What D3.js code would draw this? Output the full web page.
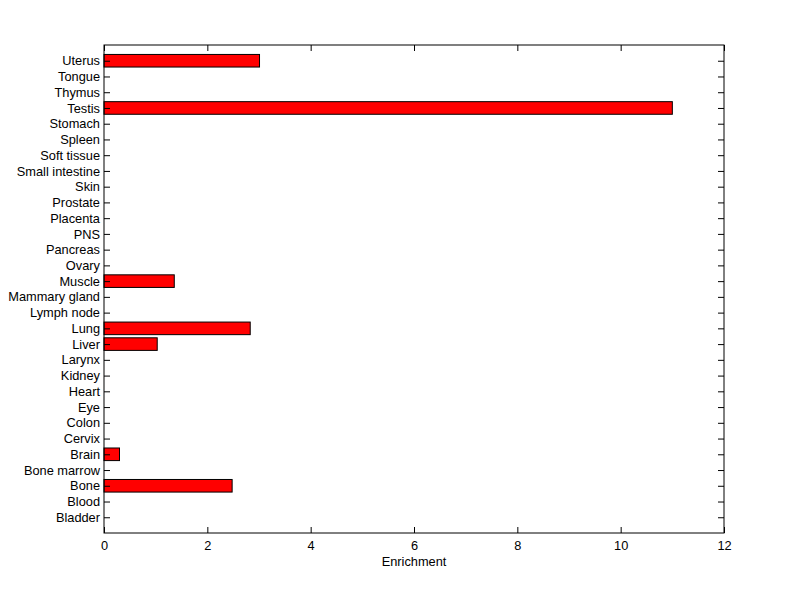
<!DOCTYPE html>
<html>
<head>
<meta charset="utf-8">
<script src="https://cdn.jsdelivr.net/npm/d3@7"></script>
<style>
    body { margin: 0; background: #fff; }
    text { font-family: "Liberation Sans", Arial, sans-serif; font-size: 12.8px; fill: #000; }
</style>
</head>
<body>
<div id="chart"></div>
<script>
// categories from bottom to top
var tissues = ["Bladder", "Blood", "Bone", "Bone marrow", "Brain", "Cervix", "Colon", "Eye",
    "Heart", "Kidney", "Larynx", "Liver", "Lung", "Lymph node", "Mammary gland", "Muscle",
    "Ovary", "Pancreas", "PNS", "Placenta", "Prostate", "Skin", "Small intestine",
    "Soft tissue", "Spleen", "Stomach", "Testis", "Thymus", "Tongue", "Uterus"];
var enrichment = [0, 0, 2.48, 0, 0.3, 0, 0, 0,
    0, 0, 0, 1.03, 2.83, 0, 0, 1.36,
    0, 0, 0, 0, 0, 0, 0,
    0, 0, 0, 11.0, 0, 0, 3.01];
var xTicks = [0, 2, 4, 6, 8, 10, 12];
var xLabel = "Enrichment";

var margin = { left: 104, right: 76, top: 45, bottom: 66 };
var width = 800 - margin.left - margin.right;
var height = 599 - margin.top - margin.bottom;

var svg = d3.select("#chart")
    .append("svg")
    .attr("width", 800)
    .attr("height", 599);
var g = svg.append("g")
    .attr("transform", "translate(" + margin.left + "," + margin.top + ")");

var x = d3.scaleLinear().domain([0, 12]).range([0, width]);
var y = d3.scaleLinear().domain([0, tissues.length + 1]).range([height, 0]);
var barH = y(0) - y(0.8);

var data = tissues.map(function (t, i) {
    return { name: t, pos: i + 1, value: enrichment[i] };
});

// bars
g.selectAll("rect.bar")
    .data(data.filter(d => d.value > 0))
    .enter().append("rect")
    .attr("class", "bar")
    .attr("x", x(0))
    .attr("y", d => y(d.pos) - barH / 2)
    .attr("width", d => x(d.value) - x(0))
    .attr("height", barH)
    .attr("fill", "#ff0000")
    .attr("stroke", "#000")
    .attr("stroke-width", 1);

// axes, MATLAB style with inward ticks on all sides
var tickLen = 6;
function styleAxis(sel) {
    sel.select(".domain").remove();
    sel.selectAll("line").attr("stroke", "#000");
}

g.append("g")
    .attr("transform", "translate(0," + height + ")")
    .call(d3.axisBottom(x).tickValues(xTicks).tickSize(-tickLen).tickPadding(8))
    .call(styleAxis);

g.append("g")
    .call(d3.axisTop(x).tickValues(xTicks).tickSize(-tickLen).tickFormat(""))
    .call(styleAxis);

g.append("g")
    .call(d3.axisLeft(y).tickValues(data.map(d => d.pos))
        .tickFormat((d, i) => tissues[i]).tickSize(-tickLen).tickPadding(4))
    .call(styleAxis);

g.append("g")
    .attr("transform", "translate(" + width + ",0)")
    .call(d3.axisRight(y).tickValues(data.map(d => d.pos)).tickSize(-tickLen).tickFormat(""))
    .call(styleAxis);

// box
g.append("rect")
    .attr("width", width)
    .attr("height", height)
    .attr("fill", "none")
    .attr("stroke", "#000")
    .attr("stroke-width", 1);

g.append("text")
    .attr("x", width / 2)
    .attr("y", height + 33)
    .attr("text-anchor", "middle")
    .text(xLabel);
</script>
</body>
</html>
